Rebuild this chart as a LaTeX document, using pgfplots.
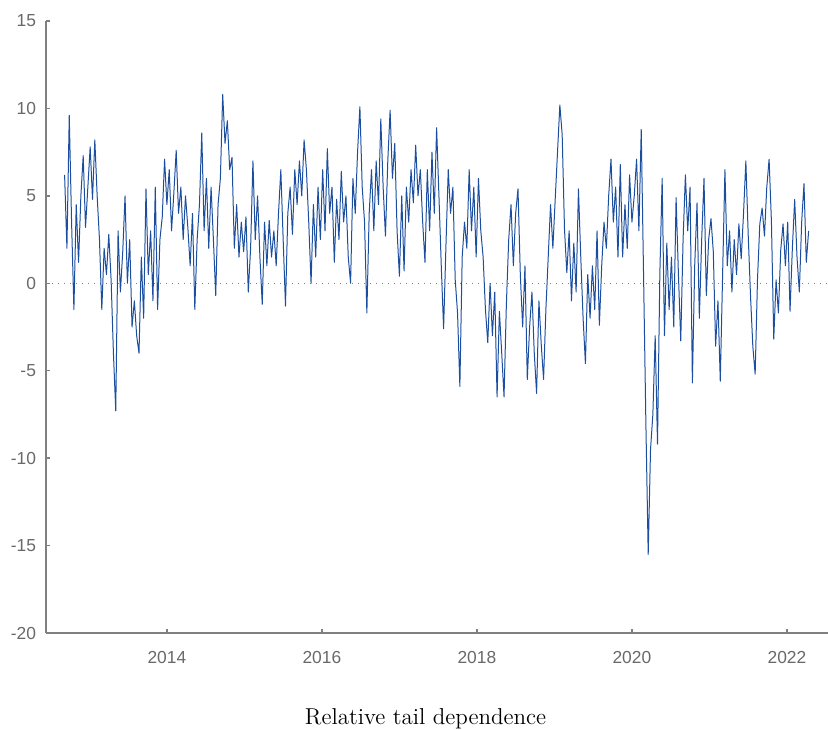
\documentclass[border=0pt]{standalone}
\usepackage{pgfplots}
\usepackage{pgfplotstable}
\pgfplotsset{compat=1.18}
\usepackage{fontspec}
\newfontfamily\tickfont{Liberation Sans}
\definecolor{axgray}{RGB}{128,128,128}
\definecolor{lblgray}{RGB}{105,105,105}
\definecolor{serblue}{RGB}{28,78,160}

% relative tail dependence, regular time grid starting 2012.68, step 0.03 years
\pgfplotstableread{
y
6.2
2.0
9.6
3.5
-1.5
4.5
1.2
5.0
7.3
3.2
5.5
7.8
4.8
8.2
5.0
2.5
-1.5
2.0
0.5
2.8
0.2
-4.0
-7.3
3.0
-0.5
1.8
5.0
0.0
2.5
-2.5
-1.0
-3.0
-4.0
1.5
-2.0
5.4
0.5
3.0
-1.0
5.5
-1.5
2.5
3.8
7.1
4.5
6.5
3.0
5.2
7.6
4.0
5.5
2.5
5.0
3.2
1.0
4.0
-1.5
2.5
4.5
8.6
3.0
6.0
2.0
5.5
2.5
-0.7
4.5
6.0
10.8
8.0
9.3
6.5
7.2
2.0
4.5
1.5
3.5
1.8
3.8
-0.5
2.0
7.0
2.5
5.0
1.5
-1.2
3.5
1.0
3.6
1.5
3.0
1.0
4.0
6.5
2.5
-1.3
4.0
5.5
2.8
6.5
4.5
7.0
5.0
8.2
6.5
3.5
0.0
4.5
1.5
5.5
2.5
6.5
3.0
7.7
4.0
5.5
1.2
4.8
2.5
6.4
3.5
5.0
1.5
0.0
6.0
4.0
7.5
10.1
5.5
3.5
-1.7
4.0
6.5
3.0
7.0
4.5
9.4
5.5
2.7
7.0
9.9
6.0
8.0
3.0
0.4
5.0
0.7
5.5
3.5
6.5
4.6
7.9
5.0
6.5
3.5
1.2
6.5
3.0
7.5
4.0
8.9
5.0
1.0
-2.6
2.1
6.5
4.0
5.5
0.2
-1.7
-5.9
1.5
3.5
2.0
6.5
3.0
5.5
1.5
6.0
3.0
1.5
-1.5
-3.4
0.0
-3.0
-0.5
-6.5
-1.6
-4.0
-6.5
-1.2
2.5
4.5
1.0
4.0
5.4
0.5
-2.5
1.0
-5.5
-2.5
-0.5
-4.0
-6.3
-1.0
-3.5
-5.5
-1.5
1.5
4.5
2.0
4.8
7.5
10.2
8.5
3.1
0.6
3.0
-1.0
2.3
-0.5
5.4
1.5
-2.0
-4.6
0.5
-2.0
1.0
-1.5
3.0
-2.4
1.0
3.5
2.0
5.0
7.1
3.5
5.5
1.5
6.8
1.5
4.5
2.0
6.2
3.5
5.0
7.1
3.0
8.8
0.5
-8.0
-15.5
-9.5
-7.5
-3.0
-9.2
0.5
6.0
-3.0
2.3
-1.5
1.5
-2.5
4.9
0.5
-3.3
2.5
6.2
3.0
5.5
-5.7
1.0
4.6
-2.0
2.5
6.0
-0.7
2.5
3.7
1.8
-3.6
-1.0
-5.6
0.5
6.5
1.0
3.0
-0.5
2.5
0.5
3.4
1.4
4.0
7.0
2.8
-0.7
-3.6
-5.2
0.2
3.4
4.3
2.7
5.5
7.1
3.5
-3.2
0.2
-1.7
1.9
3.4
1.0
3.5
-1.6
2.0
4.8
1.5
-0.5
3.5
5.7
1.2
3.0
}\tailtable

\begin{document}
\begin{tikzpicture}
\useasboundingbox (-23pt,-48pt) rectangle (391pt,316.5pt);
\begin{axis}[
  at={(0,0)}, anchor=south west,
  scale only axis, width=391pt, height=306pt,
  xmin=2012.44, xmax=2022.53, ymin=-20, ymax=15,
  axis x line*=bottom, axis y line*=left,
  axis line style={axgray, line width=0.75pt, -},
  tick style={axgray, line width=0.75pt},
  tick align=inside, major tick length=2.2pt,
  xtick={2014,2016,2018,2020,2022},
  xticklabels={2014,2016,2018,2020,2022},
  ytick={-20,-15,-10,-5,0,5,10,15},
  yticklabels={-20,-15,-10,-5,0,5,10,15},
  tick label style={font=\tickfont\fontsize{8.7}{10}\selectfont, text=lblgray},
  xticklabel style={yshift=-5.5pt},
  yticklabel style={xshift=-1.5pt},
  clip=true,
]
\addplot[axgray, line width=0.6pt, dash pattern=on 0.6pt off 2.4pt] coordinates {(2012.44,0) (2022.53,0)};
\addplot[serblue, line width=0.5pt, line join=round] table[x expr=2012.68+\coordindex*0.03, y=y] {\tailtable};
\end{axis}
\node[font=\fontsize{11.5}{13}\selectfont, anchor=base] at (189.75pt,-45.5pt) {Relative tail dependence};
\end{tikzpicture}
\end{document}
